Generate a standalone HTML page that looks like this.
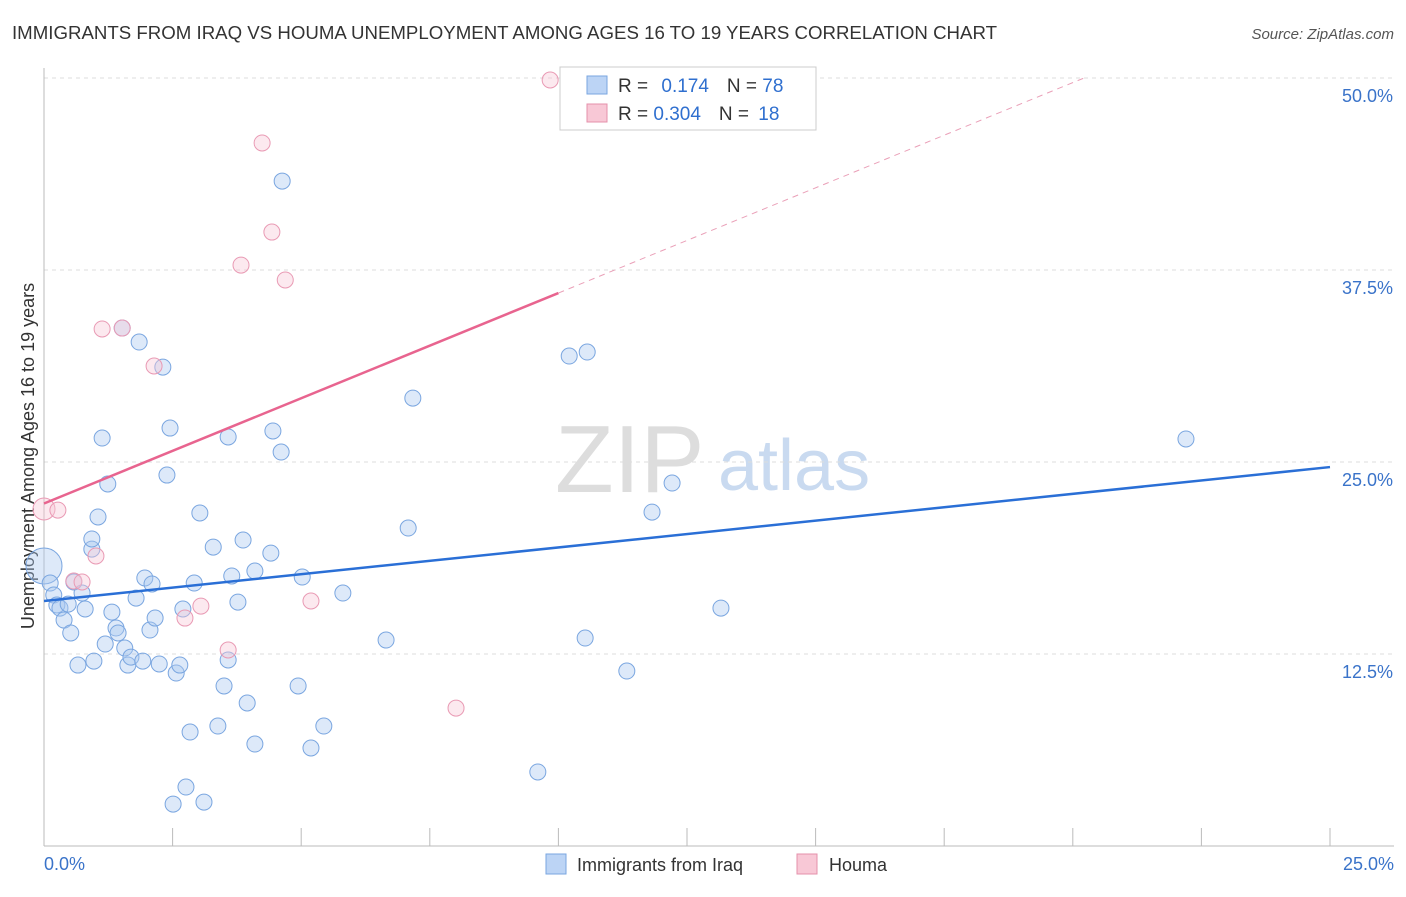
<!DOCTYPE html>
<html><head><meta charset="utf-8"><style>
body{margin:0;background:#fff;font-family:"Liberation Sans",sans-serif}
svg text{font-family:"Liberation Sans",sans-serif}
</style></head><body>
<svg id="chart" width="1406" height="892">
<text x="12" y="39" font-size="18" fill="#333" textLength="985" lengthAdjust="spacingAndGlyphs">IMMIGRANTS FROM IRAQ VS HOUMA UNEMPLOYMENT AMONG AGES 16 TO 19 YEARS CORRELATION CHART</text>
<text x="1394" y="39" font-size="15" fill="#555" font-style="italic" text-anchor="end">Source: ZipAtlas.com</text>
<text x="555" y="492" font-size="96" fill="#ddd" font-family="Liberation Serif">ZIP</text>
<text x="718" y="490" font-size="72" fill="#c9daf0">atlas</text>
<text transform="translate(34,456) rotate(-90)" font-size="18" fill="#333" text-anchor="middle">Unemployment Among Ages 16 to 19 years</text>
<g id="grid"></g><g id="marks"></g><g id="lines"></g>
<g>
<rect x="560" y="67" width="256" height="63" fill="#fff" stroke="#ccc"/>
<rect x="587" y="76" width="20" height="18" fill="#bcd4f5" stroke="#7aa6e0"/>
<text x="618" y="92" font-size="19" fill="#333">R = <tspan fill="#2f6fcf" dx="8">0.174</tspan><tspan dx="18" fill="#333">N = </tspan><tspan fill="#2f6fcf">78</tspan></text>
<rect x="587" y="104" width="20" height="18" fill="#f8c8d6" stroke="#e590ab"/>
<text x="618" y="120" font-size="19" fill="#333">R = <tspan fill="#2f6fcf">0.304</tspan><tspan dx="18" fill="#333">N = </tspan><tspan fill="#2f6fcf" dx="4">18</tspan></text>
</g>
<g>
<rect x="546" y="854" width="20" height="20" fill="#bcd4f5" stroke="#7aa6e0"/>
<text x="577" y="871" font-size="18" fill="#333">Immigrants from Iraq</text>
<rect x="797" y="854" width="20" height="20" fill="#f8c8d6" stroke="#e590ab"/>
<text x="829" y="871" font-size="18" fill="#333">Houma</text>
</g>
</svg>
<script>
const blueX=[0,0.12,0.19,0.25,0.31,0.47,0.39,0.52,0.58,0.66,0.74,0.80,0.97,1.05,1.13,0.93,0.93,1.19,1.24,1.32,1.40,1.44,1.52,1.57,1.63,1.69,1.85,1.79,1.96,1.92,2.10,2.06,2.16,2.24,2.31,2.39,2.45,2.57,2.64,2.70,2.76,2.84,2.92,3.03,3.11,2.51,3.29,3.38,3.50,3.58,3.58,3.65,3.77,3.87,3.95,4.10,4.10,4.41,4.45,4.61,4.63,4.94,5.02,5.19,5.44,5.81,6.65,7.08,7.17,9.60,10.21,10.56,10.52,11.33,11.82,12.21,13.16,22.20];
const blueY=[18.23,17.12,16.34,15.69,15.49,15.75,14.71,13.87,17.19,11.78,16.47,15.43,12.04,21.42,26.56,19.33,19.99,13.15,23.57,15.23,14.19,13.87,33.72,12.89,11.78,12.30,32.81,16.14,17.45,12.04,17.06,14.06,14.84,11.85,31.18,24.15,27.21,11.26,11.78,15.43,3.84,7.42,17.12,21.68,2.86,2.73,19.46,7.81,10.42,26.63,12.11,17.58,15.88,19.92,9.31,17.90,6.64,19.07,27.02,25.65,43.29,10.42,17.51,6.38,7.81,16.47,13.41,20.70,29.16,4.82,31.90,32.16,13.54,11.39,21.74,23.63,15.49,26.50];
const pinkX=[0,0.27,0.58,0.74,1.01,1.13,1.52,2.14,2.74,3.05,3.58,3.83,4.24,4.43,4.69,5.19,8.01,9.84];
const pinkY=[21.94,21.87,17.25,17.19,18.88,33.66,33.72,31.25,14.84,15.62,12.76,37.82,45.77,39.97,36.85,15.95,8.98,49.87];
const blueTrend=[15.95,24.67];
const pinkTrend=[22.3,36.0];
const yTicks=[12.5,25.0,37.5,50.0];
const NS="http://www.w3.org/2000/svg";
const X=v=>44+v/25*1286, Y=v=>846-v/50*768;
function mk(t,a,p){const e=document.createElementNS(NS,t);for(const k in a)e.setAttribute(k,a[k]);p.appendChild(e);return e;}
const grid=document.getElementById('grid'),marks=document.getElementById('marks'),lines=document.getElementById('lines');
yTicks.forEach(t=>{
 const l=mk('line',{x1:44,x2:1394,y1:Y(t),y2:Y(t),stroke:'#ddd','stroke-dasharray':'4,4'},grid);
 
 
 const tx=mk('text',{x:1393,y:Y(t)+24,'font-size':18,fill:'#3a73c9','text-anchor':'end'},grid);
 tx.textContent=t.toFixed(1)+'%';
 
 
});
mk('line',{x1:44,x2:44,y1:68,y2:846,stroke:'#bbb'},grid);
mk('line',{x1:44,x2:1394,y1:846,y2:846,stroke:'#bbb'},grid);
for(let i=0;i<=10;i++){const tk=mk('line',{x1:X(i*2.5),x2:X(i*2.5),y1:828,y2:846,stroke:'#bbb'},grid);
 
 }
[[0,'0.0%','start',44],[25,'25.0%','end',1394]].forEach(d=>{const t=mk('text',{x:d[3],y:870,'font-size':18,fill:'#3a73c9','text-anchor':d[2]},grid);t.textContent=d[1];
 
 });
blueX.forEach((x,i)=>{const c=mk('circle',{cx:X(x),cy:Y(blueY[i]),r:i===0?18:8,fill:'rgba(170,200,240,0.4)',stroke:'#7aa6e0','stroke-width':1},marks);
 
 });
pinkX.forEach((x,i)=>{const c=mk('circle',{cx:X(x),cy:Y(pinkY[i]),r:i===0?11:8,fill:'rgba(248,200,215,0.4)',stroke:'#e99ab4','stroke-width':1},marks);
 
 });
const bl=mk('line',{x1:X(0),y1:Y(blueTrend[0]),x2:X(25),y2:Y(blueTrend[1]),stroke:'#2a6fd6','stroke-width':2.5},lines);


const slope=(pinkTrend[1]-pinkTrend[0])/10;
const pl=mk('line',{x1:X(0),y1:Y(pinkTrend[0]),x2:X(10),y2:Y(pinkTrend[1]),stroke:'#e8648f','stroke-width':2.5},lines);


const xe=(50-pinkTrend[0])/slope;
const pd=mk('line',{x1:X(10),y1:Y(pinkTrend[1]),x2:X(xe),y2:Y(50),stroke:'#eaa0b8','stroke-width':1,'stroke-dasharray':'6,5'},lines);


</script>
</body></html>
